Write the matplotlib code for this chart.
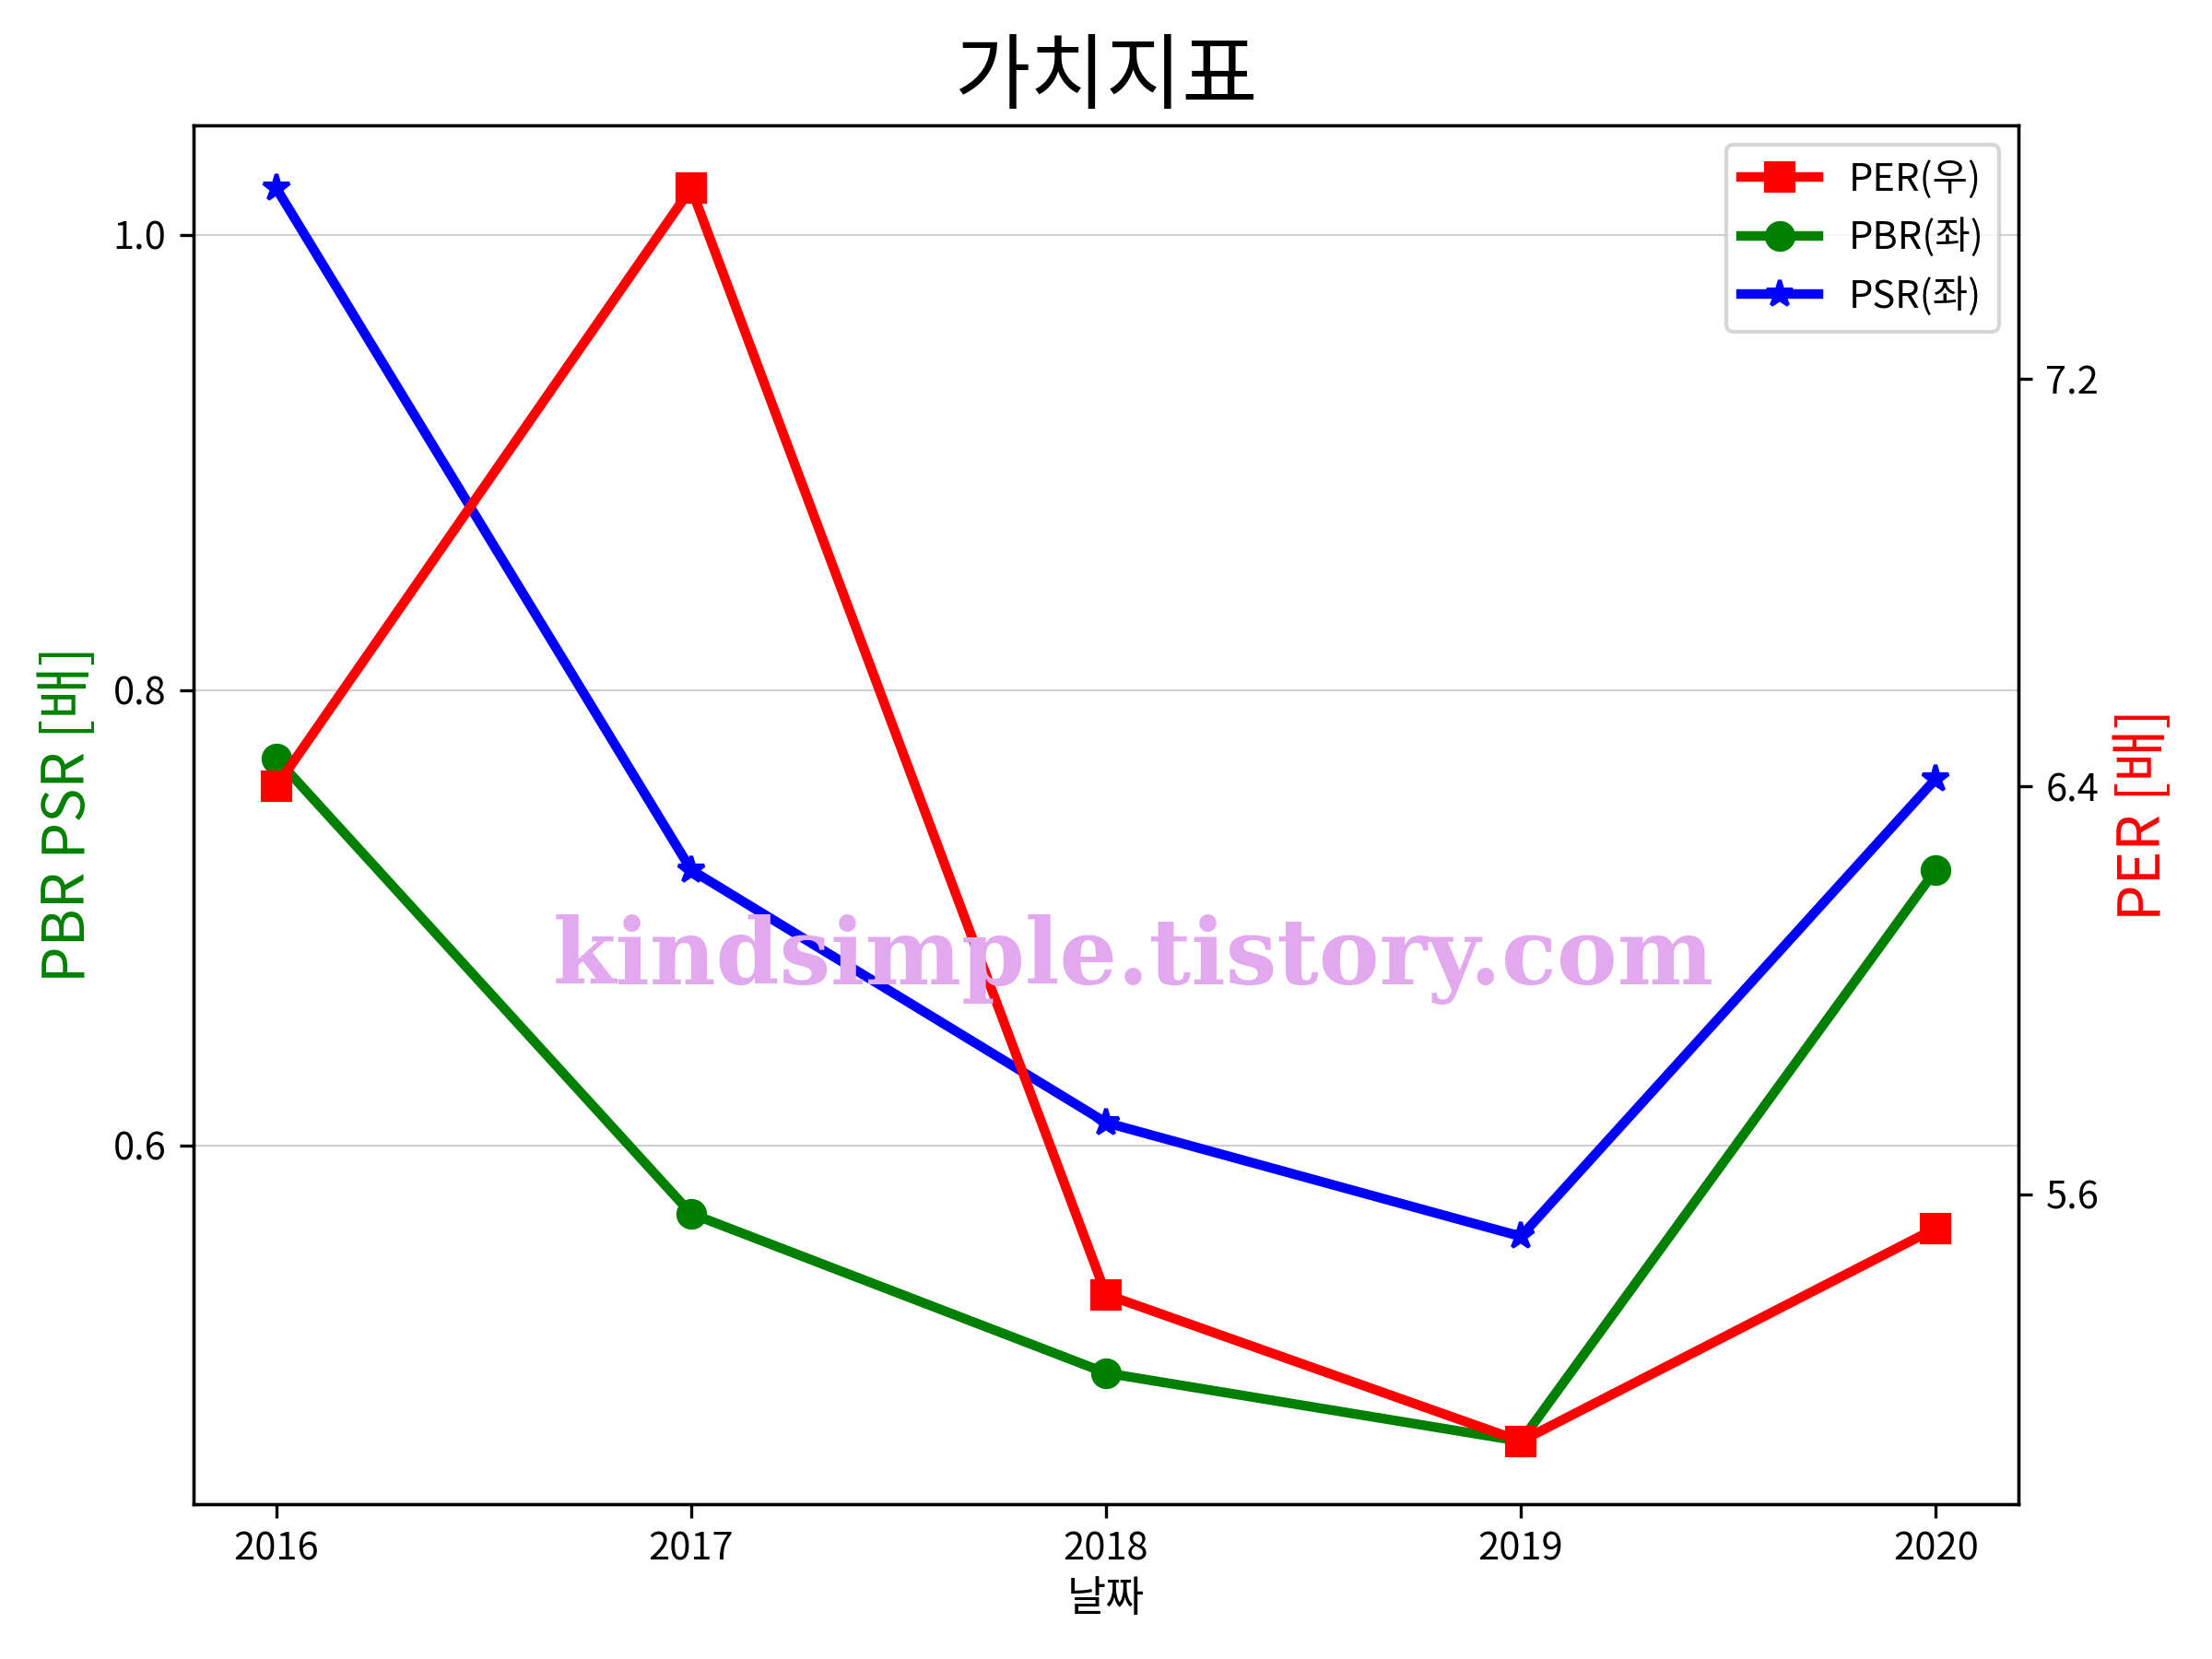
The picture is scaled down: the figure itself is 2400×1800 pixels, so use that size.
import matplotlib
matplotlib.use("Agg")
import matplotlib.pyplot as plt
from matplotlib.ticker import MultipleLocator

plt.rcParams['font.family'] = ['Noto Sans CJK KR', 'DejaVu Sans']
plt.rcParams['axes.unicode_minus'] = False

years = [2016, 2017, 2018, 2019, 2020]
per = [6.40, 7.574, 5.403, 5.115, 5.533]
pbr = [0.770, 0.570, 0.500, 0.470, 0.721]
psr = [1.0205, 0.721, 0.610, 0.560, 0.761]

fig = plt.figure(figsize=(8, 6), dpi=300)
ax = fig.add_axes([0.0874, 0.0935, 0.8252, 0.8308])
ax2 = ax.twinx()

l2, = ax.plot(years, pbr, color='green', marker='o', lw=2.5, ms=7, label='PBR(좌)')
l3, = ax.plot(years, psr, color='blue', marker='*', lw=2.5, ms=7, label='PSR(좌)')
l1, = ax2.plot(years, per, color='red', marker='s', lw=2.5, ms=7, label='PER(우)')

ax.set_xticks(years)
ax.set_xticklabels([str(y) for y in years])
ax.yaxis.set_major_locator(MultipleLocator(0.2))
ax2.yaxis.set_major_locator(MultipleLocator(0.8))
ax.grid(axis='y', color='#d0d0d0', lw=0.5)

ax.set_title('가치지표', fontsize=21.5)
ax.set_xlabel('날짜', fontsize=11, labelpad=2)
ax.set_ylabel('PBR PSR [배]', color='green', fontsize=15)
ax2.set_ylabel('PER [배]', color='red', fontsize=15)

ax2.legend(handles=[l1, l2, l3], loc='upper right', fontsize=10)

wm = fig.text(0.5125, 0.4217, 'kindsimple.tistory.com', family='DejaVu Serif',
              fontweight='bold', fontsize=30, color='#E2A9EF', ha='center', va='center',
              zorder=10)
fig.canvas.draw()
bb = wm.get_window_extent()
wm.set_fontsize(30 * 1260 / bb.width)

fig.savefig('out.png', dpi=300)
